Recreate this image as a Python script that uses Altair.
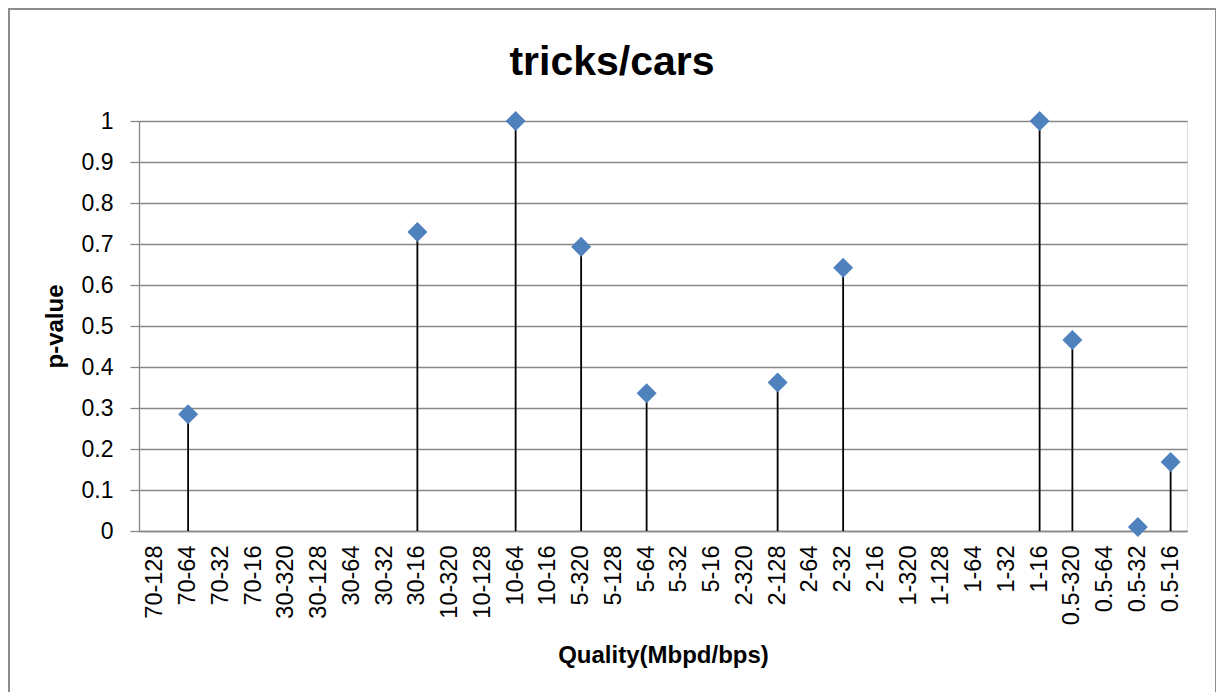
import altair as alt
import pandas as pd

categories = ["70-128", "70-64", "70-32", "70-16", "30-320", "30-128", "30-64", "30-32",
              "30-16", "10-320", "10-128", "10-64", "10-16", "5-320", "5-128", "5-64",
              "5-32", "5-16", "2-320", "2-128", "2-64", "2-32", "2-16", "1-320",
              "1-128", "1-64", "1-32", "1-16", "0.5-320", "0.5-64", "0.5-32", "0.5-16"]
point_cats = ["70-64", "30-16", "10-64", "5-320", "5-64", "2-128", "2-32", "1-16",
              "0.5-320", "0.5-32", "0.5-16"]
p_values = [0.285, 0.729, 1.0, 0.693, 0.336, 0.362, 0.642, 1.0, 0.466, 0.01, 0.168]
y_ticks = [0, 0.1, 0.2, 0.3, 0.4, 0.5, 0.6, 0.7, 0.8, 0.9, 1]
title_text = "tricks/cars"

df = pd.DataFrame({"cat": point_cats, "p": p_values, "zero": [0.0] * len(point_cats)})

FONT = "Liberation Sans"
W, H = 1048, 410

x_enc = alt.X("cat:N", sort=categories,
              scale=alt.Scale(domain=categories, paddingInner=0, paddingOuter=0),
              axis=alt.Axis(title="Quality(Mbpd/bps)", labelAngle=270, labelAlign="right",
                            labelBaseline="middle", labelPadding=14, ticks=False,
                            domain=True, domainColor="#878787", domainWidth=1.3,
                            labelFontSize=23.5, labelFont=FONT, labelColor="#000000",
                            titleFont=FONT, titleFontSize=24, titleFontWeight="bold",
                            titleColor="#000000", titlePadding=19, grid=False))
y_scale = alt.Scale(domain=[0, 1], nice=False, zero=True)
y_axis = alt.Axis(title="p-value", values=y_ticks, format="~g", grid=True,
                  gridColor="#878787", gridWidth=1.3, domainColor="#878787", domainWidth=1.3,
                  tickColor="#878787", tickSize=9, tickWidth=1.3, labelPadding=17,
                  labelFontSize=23, labelFont=FONT, labelColor="#000000",
                  titleFont=FONT, titleFontSize=24, titleFontWeight="bold",
                  titleColor="#000000", titlePadding=14)

frame = alt.Chart(df).mark_rect(fill="transparent", stroke="#8c8c8c", strokeWidth=2,
                                clip=False).encode(
    x=alt.value(-130), x2=alt.value(1077), y=alt.value(-112), y2=alt.value(H + 260)
)

title = alt.Chart(pd.DataFrame({"t": [title_text]})).mark_text(
    font=FONT, fontSize=41, fontWeight="bold", color="#000000",
    align="center", baseline="alphabetic", clip=False
).encode(x=alt.value(W / 2 - 51), y=alt.value(-46), text="t:N")

stems = alt.Chart(df).mark_rule(color="#000000", strokeWidth=1.8).encode(
    x=x_enc,
    y=alt.Y("zero:Q", scale=y_scale, axis=y_axis),
    y2="p:Q",
)

points = alt.Chart(df).mark_point(shape="diamond", filled=True, size=400, opacity=1,
                                  color="#4F81BD").encode(
    x=x_enc,
    y=alt.Y("p:Q", scale=y_scale, axis=y_axis),
)

chart = alt.layer(stems, points, frame, title).properties(
    width=W, height=H,
    autosize=alt.AutoSizeParams(type="none"),
    padding={"left": 131, "top": 113, "right": 29, "bottom": 161},
).configure_view(stroke=None).configure(background="#ffffff")

chart.save("out.html", embed_options={"renderer": "svg", "actions": False})
